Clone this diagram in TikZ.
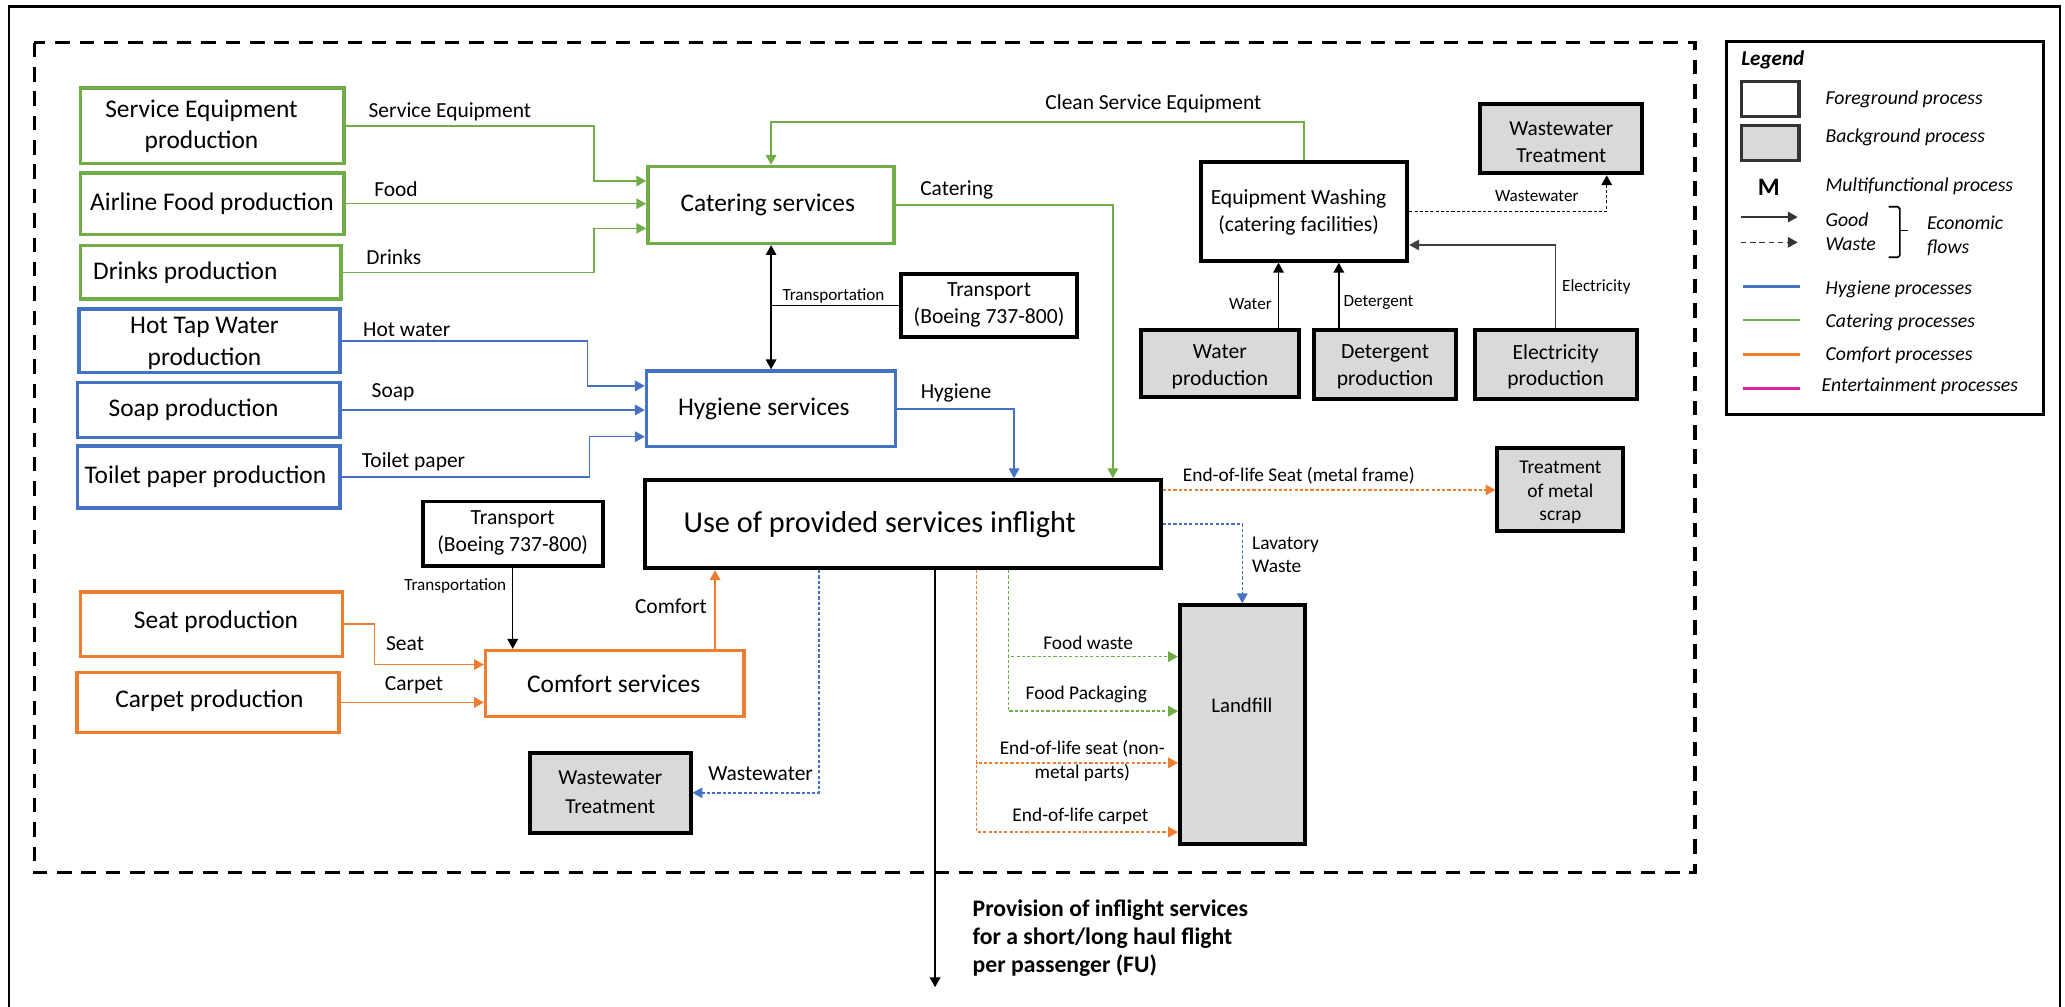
\documentclass[tikz,border=0pt]{standalone}
\usepackage{fontspec}
\setmainfont{Carlito}
\usetikzlibrary{arrows.meta,calc}
\definecolor{cHyg}{HTML}{4472C4}
\definecolor{cCat}{HTML}{70AD47}
\definecolor{cCom}{HTML}{ED7D31}
\definecolor{cEnt}{HTML}{E022A2}
\definecolor{cBg}{HTML}{D9D9D9}
\newcommand\fsz[2]{\fontsize{#1}{#2}\selectfont}
\begin{document}
\begin{tikzpicture}[x=1pt,y=-1pt,
  box/.style={draw, line width=2.7pt, inner sep=0pt},
  fgbox/.style={draw=black, line width=3pt, inner sep=0pt},
  bgbox/.style={draw=black, line width=3pt, fill=cBg, inner sep=0pt},
  flow/.style={line width=1.15pt, -{Triangle[length=7.5pt,width=8pt]}},
  waste/.style={flow, dash pattern=on 2.4pt off 1.6pt},
  boxtxt/.style={align=center, font=\fsz{19.3}{23.8}, inner sep=0pt},
  midtxt/.style={align=center, font=\fsz{16.4}{20.6}, inner sep=0pt},
  lbl/.style={anchor=west, font=\fsz{16.3}{20}, inner sep=0pt},
  slbl/.style={anchor=west, font=\fsz{13}{16}, inner sep=0pt},
  wlbl/.style={anchor=west, font=\fsz{14.7}{18}, inner sep=0pt},
  leg/.style={anchor=west, font=\fsz{15}{18.5}\itshape, inner sep=0pt},
]
\useasboundingbox (0,0) rectangle (1568,764);

% outer frame and system boundary
\draw[line width=1.8pt] (6.8,770) -- (6.8,5) -- (1564,5) -- (1564,770);
\draw[line width=2.5pt, dash pattern=on 11pt off 7.5pt] (26,32.4) rectangle (1287,662.6);

% ---------- catering supply chain ----------
\node[box, draw=cCat, minimum width=200pt, minimum height=57pt] (se) at (161,95.5) {};
\node[boxtxt] (se-t) at (153,96) {Service Equipment\\production};
\node[box, draw=cCat, minimum width=200pt, minimum height=47pt] (af) at (161,154.7) {};
\node[boxtxt] (af-t) at (161,154.7) {Airline Food production};
\node[box, draw=cCat, minimum width=198pt, minimum height=40.5pt] (dr) at (160,206.8) {};
\node[boxtxt] (dr-t) at (140.7,206.8) {Drinks production};

% ---------- hygiene supply chain ----------
\node[box, draw=cHyg, minimum width=198pt, minimum height=48.4pt] (ht) at (159,258.8) {};
\node[boxtxt] (ht-t) at (155.3,260.8) {Hot Tap Water\\production};
\node[box, draw=cHyg, minimum width=199pt, minimum height=42pt] (sp) at (158.5,311.3) {};
\node[boxtxt] (sp-t) at (147,311.3) {Soap production};
\node[box, draw=cHyg, minimum width=199pt, minimum height=47pt] (tp) at (158.5,362.1) {};
\node[boxtxt] (tp-t) at (156,362.1) {Toilet paper production};

% ---------- comfort supply chain ----------
\node[box, draw=cCom, minimum width=199pt, minimum height=49.3pt] (seat) at (160.5,474) {};
\node[boxtxt] (seat-t) at (164,472) {Seat production};
\node[box, draw=cCom, minimum width=199pt, minimum height=45.8pt] (carp) at (158.1,533.4) {};
\node[boxtxt] (carp-t) at (159,532) {Carpet production};

% ---------- service processes ----------
\node[box, draw=cCat, minimum width=187pt, minimum height=58.3pt] (cat) at (585.5,155.6) {};
\node[boxtxt] (cat-t) at (583,155.6) {Catering services};
\node[box, draw=cHyg, minimum width=189pt, minimum height=57.3pt] (hyg) at (585.5,310.4) {};
\node[boxtxt] (hyg-t) at (580,310.4) {Hygiene services};
\node[box, draw=cCom, minimum width=196.2pt, minimum height=50.2pt] (com) at (466.9,519.1) {};
\node[boxtxt] (com-t) at (466,519.1) {Comfort services};

\node[fgbox, minimum width=134pt, minimum height=48pt] (trA) at (751,232) {};
\node[midtxt] (trA-t) at (751,231.5) {Transport\\(Boeing 737-800)};
\node[fgbox, minimum width=136.6pt, minimum height=49pt] (trB) at (389.3,405.3) {};
\node[midtxt] (trB-t) at (389.3,404.8) {Transport\\(Boeing 737-800)};

\node[fgbox, minimum width=392pt, minimum height=66.8pt] (use) at (685.5,398) {};
\node[inner sep=0pt, font=\fsz{23}{28}] (use-t) at (668,398) {Use of provided services inflight};

\node[fgbox, minimum width=156.5pt, minimum height=75pt] (ew) at (990.3,160.5) {};
\node[midtxt] (ew-t) at (986,161) {Equipment Washing\\(catering facilities)};

% ---------- background processes ----------
\node[bgbox, minimum width=123pt, minimum height=52.6pt] (wtA) at (1185.5,105.3) {};
\node[midtxt, font=\fsz{16.2}{20.3}] (wtA-t) at (1185.5,108) {Wastewater\\Treatment};
\node[bgbox, minimum width=119.5pt, minimum height=51pt] (wp) at (926.3,276.2) {};
\node[midtxt, font=\fsz{16.4}{20.3}] (wp-t) at (926.3,278.5) {Water\\production};
\node[bgbox, minimum width=108pt, minimum height=52.4pt] (dp) at (1051.7,276.8) {};
\node[midtxt, font=\fsz{16.4}{20.3}] (dp-t) at (1051.7,278.5) {Detergent\\production};
\node[bgbox, minimum width=123pt, minimum height=52.4pt] (elp) at (1181.2,276.8) {};
\node[midtxt, font=\fsz{16.4}{20.3}] (elp-t) at (1181.2,278.5) {Electricity\\production};
\node[bgbox, minimum width=95.6pt, minimum height=63pt] (tms) at (1184.8,371.9) {};
\node[midtxt, font=\fsz{14.8}{18}] (tms-t) at (1184.8,374) {Treatment\\of metal\\scrap};
\node[bgbox, minimum width=94.6pt, minimum height=181.5pt] (land) at (943.3,550.3) {};
\node[inner sep=0pt, font=\fsz{15.8}{19}] (land-t) at (943,535.5) {Landfill};
\node[bgbox, minimum width=122pt, minimum height=61.2pt] (wtB) at (463.4,602) {};
\node[midtxt, font=\fsz{16.2}{21.5}] (wtB-t) at (463.4,601.5) {Wastewater\\Treatment};

% ---------- flows into catering ----------
\draw[flow, draw=cCat] (se.east) -| ([xshift=-39.5pt,yshift=18.2pt]cat.west) -- ([yshift=18.2pt]cat.west);
\draw[flow, draw=cCat] (af.east) -- (af.east -| cat.west);
\draw[flow, draw=cCat] (dr.east) -| ([xshift=-39.5pt,yshift=-17.8pt]cat.west) -- ([yshift=-17.8pt]cat.west);
\node[lbl] (l-se) at (279.7,84.8) {Service Equipment};
\node[lbl] (l-af) at (284,143.5) {Food};
\node[lbl] (l-dr) at (278,195.4) {Drinks};

% ---------- flows into hygiene ----------
\draw[flow, draw=cHyg] (ht.east) -| ([xshift=-43.5pt,yshift=17.4pt]hyg.west) -- ([yshift=17.4pt]hyg.west);
\draw[flow, draw=cHyg] (sp.east) -- (sp.east -| hyg.west);
\draw[flow, draw=cHyg] (tp.east) -| ([xshift=-42pt,yshift=-21.2pt]hyg.west) -- ([yshift=-21.2pt]hyg.west);
\node[lbl] (l-ht) at (275.6,250.6) {Hot water};
\node[lbl] (l-sp) at (282,298) {Soap};
\node[lbl] (l-tp) at (274.6,350.5) {Toilet paper};

% ---------- transport ----------
\draw[line width=1.15pt, {Triangle[length=7.5pt,width=8pt]}-{Triangle[length=7.5pt,width=8pt]}] (cat.south) -- (hyg.north);
\draw[line width=1.15pt] (trA.west) -- (trA.west -| cat.south);
\node[slbl] (l-trA) at (594,225) {Transportation};
\draw[flow] (trB.south) -- (trB.south |- com.north);
\node[slbl] (l-trB) at (306.8,445) {Transportation};

% ---------- washing loop ----------
\draw[flow, draw=cCat] (ew.north) |- ([yshift=32.3pt]cat.north) -- (cat.north);
\node[lbl] (l-cse) at (793.6,78.5) {Clean Service Equipment};
\coordinate (wtin) at ([xshift=34.5pt]wtA.south);
\draw[waste] (ew.east) -| (wtin);
\node[slbl] (l-ww1) at (1135,149) {Wastewater};
\coordinate (wpo) at ([xshift=44.5pt]wp.north);
\draw[flow] (wpo) -- (wpo |- ew.south);
\node[slbl] (l-wp) at (933,231) {Water};
\coordinate (dpo) at ([xshift=-35.1pt]dp.north);
\draw[flow] (dpo) -- (dpo |- ew.south);
\node[slbl] (l-dp) at (1020,230) {Detergent};
\draw[flow, draw=black!75] (elp.north) |- ([yshift=-25.5pt]ew.east);
\node[slbl] (l-elp) at (1186,218) {Electricity};

% ---------- services to use phase ----------
\draw[flow, draw=cCat] (cat.east) -| ([xshift=159.5pt]use.north);
\node[lbl] (l-cat) at (698.6,144) {Catering};
\draw[flow, draw=cHyg] (hyg.east) -| ([xshift=84.5pt]use.north);
\node[lbl] (l-hyg) at (699,298) {Hygiene};
\coordinate (comtop) at ([xshift=76.1pt]com.north);
\draw[flow, draw=cCom] (comtop) -- (comtop |- use.south);
\node[lbl] (l-com) at (482,460) {Comfort};
\draw[flow, draw=cCom] (seat.east) -| ([xshift=-83pt,yshift=14.5pt]com.west) -- ([yshift=14.5pt]com.west);
\draw[flow, draw=cCom] (carp.east) -- (carp.east -| com.west);
\node[lbl] (l-seat) at (293,488.5) {Seat};
\node[lbl] (l-carp) at (292,520.7) {Carpet};

% ---------- waste from use phase ----------
\coordinate (wwo) at ([xshift=-63.5pt]use.south);
\draw[waste, draw=cHyg] (wwo) |- (wtB.east);
\node[lbl] (l-ww2) at (537.6,587.5) {Wastewater};
\coordinate (eos) at ([yshift=26pt]use.east);
\draw[waste, draw=cCom] (eos) -- (eos -| tms.west);
\node[wlbl] (l-eos) at (898,361) {End-of-life Seat (metal frame)};
\draw[waste, draw=cHyg] (use.east) -| (land.north);
\node[wlbl, align=left, font=\fsz{14.7}{17.6}] (l-lav) at (950.6,421.2) {Lavatory\\Waste};
\coordinate (fwo) at ([xshift=80.1pt]use.south);
\draw[waste, draw=cCat] (fwo) |- ([yshift=51.7pt]land.west);
\draw[waste, draw=cCat] (fwo) |- ([yshift=10.3pt]land.west);
\node[wlbl] (l-fw) at (792,488) {Food waste};
\node[wlbl] (l-fp) at (778.6,527.5) {Food Packaging};
\coordinate (eoo) at ([xshift=56pt]use.south);
\draw[waste, draw=cCom] (eoo) |- ([yshift=-28.9pt]land.west);
\draw[waste, draw=cCom] (eoo) |- ([yshift=-81.5pt]land.west);
\node[align=center, inner sep=0pt, font=\fsz{14.7}{18}] (l-eon) at (821.8,577.7) {End-of-life seat (non-\\metal parts)};
\node[wlbl] (l-eoc) at (768.6,620) {End-of-life carpet};

% ---------- functional unit ----------
\coordinate (fuo) at ([xshift=24.5pt]use.south);
\coordinate (fuend) at (710,749.6);
\draw[flow, line width=1.6pt] (fuo) -- (fuend);
\node[anchor=west, align=left, inner sep=0pt, font=\fsz{18}{21.4}\bfseries] (fu-t) at (738.4,712.5) {Provision of inflight services\\for a short/long haul flight\\per passenger (FU)};

% ---------- legend ----------
\node[draw, line width=2.2pt, minimum width=240.5pt, minimum height=283pt, inner sep=0pt] (lg) at (1431.25,173.1) {};
\node[anchor=west, inner sep=0pt, font=\fsz{16}{19}\bfseries\itshape] (lg-title) at (1322,45.6) {Legend};
\node[draw=black!80, line width=2.3pt, minimum width=44pt, minimum height=26.6pt, inner sep=0pt] (lg-fg) at (1344,75.3) {};
\node[draw=black!80, fill=cBg, line width=2.3pt, minimum width=44pt, minimum height=26.5pt, inner sep=0pt] (lg-bg) at (1344,108.25) {};
\node[inner sep=0pt, font=\fsz{19}{22}\bfseries] (lg-m) at (1343,142.5) {M};
\node[leg] (lg-fgt) at (1386,75.4) {Foreground process};
\node[leg] (lg-bgt) at (1386,104.5) {Background process};
\node[leg] (lg-mt) at (1386,141.7) {Multifunctional process};
\coordinate (lga1) at (1322,164.8);
\coordinate (lga2) at (1365,164.8);
\coordinate (lgb1) at (1322,184);
\coordinate (lgb2) at (1365,184);
\draw[flow, draw=black!80] (lga1) -- (lga2);
\draw[flow, draw=black!80, dash pattern=on 4pt off 3pt] (lgb1) -- (lgb2);
\node[leg] (lg-good) at (1386,166.5) {Good};
\node[leg] (lg-waste) at (1386,185.5) {Waste};
\draw[line width=1.3pt, rounded corners=1.5pt] (1434,157) -- (1442.6,157) -- (1442.6,195.4) -- (1434,195.4);
\draw[line width=1.3pt] (1442.6,175.1) -- (1448.8,175.1);
\node[leg, align=left] (lg-eco) at (1463,179.1) {Economic\\flows};
\draw[line width=2pt, cHyg] (1323.5,217.7) -- (1367,217.7);
\draw[line width=2pt, cCat] (1323.5,243) -- (1367,243);
\draw[line width=2pt, cCom] (1323.5,269) -- (1367,269);
\draw[line width=2pt, cEnt] (1323.5,295) -- (1367,295);
\node[leg] (lg-hyg) at (1386,219.4) {Hygiene processes};
\node[leg] (lg-cat) at (1386,244.5) {Catering processes};
\node[leg] (lg-com) at (1386,270) {Comfort processes};
\node[leg] (lg-ent) at (1383,293.6) {Entertainment processes};
\end{tikzpicture}
\end{document}
